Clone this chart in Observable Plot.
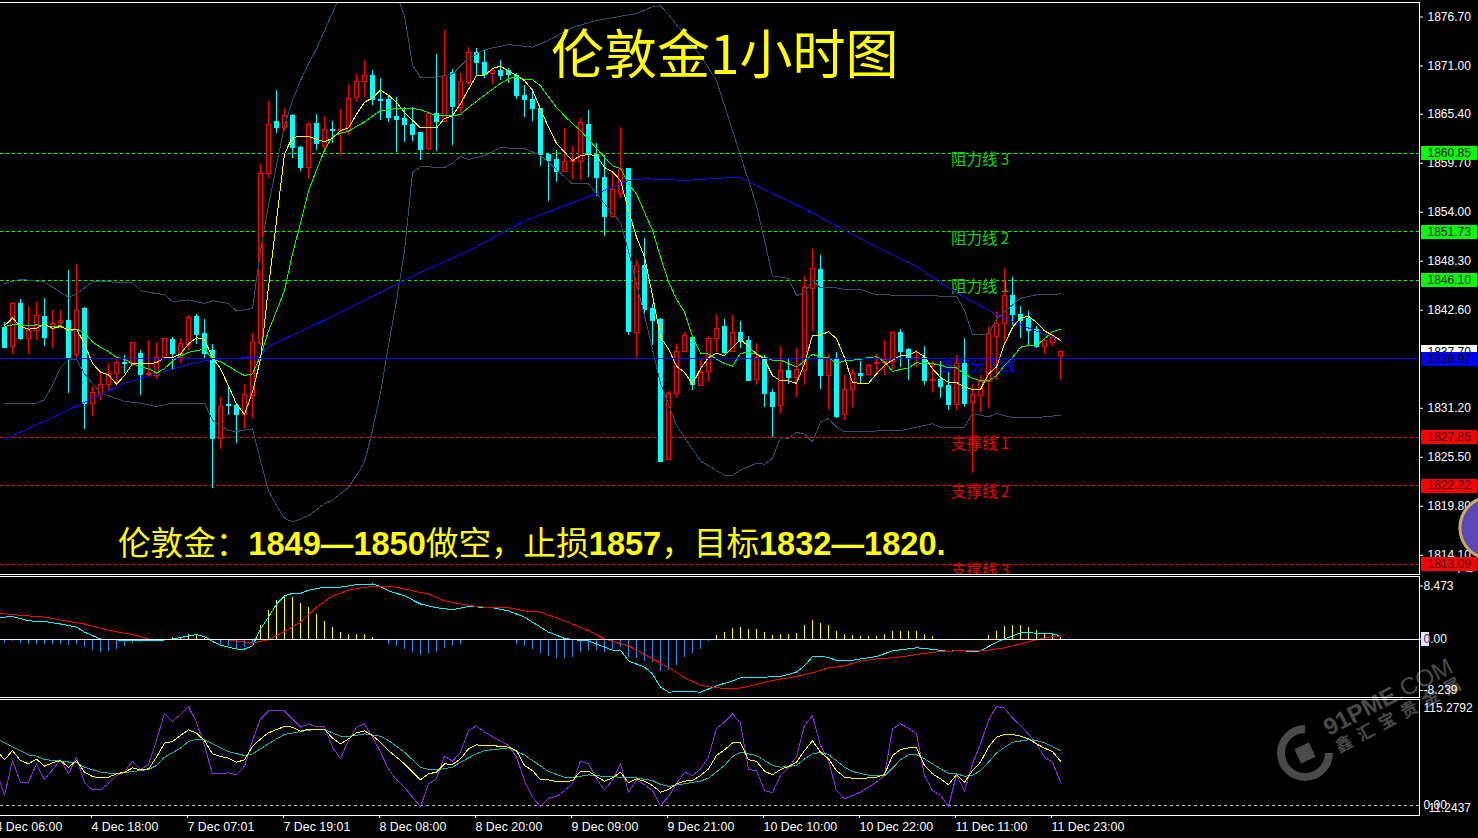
<!DOCTYPE html>
<html><head><meta charset="utf-8">
<script src="https://cdn.jsdelivr.net/npm/d3@7"></script>
<script src="https://cdn.jsdelivr.net/npm/@observablehq/plot@0.6"></script>
<style>
html,body{margin:0;padding:0;background:#000;overflow:hidden}
#page{position:relative;width:1478px;height:838px;background:#000;overflow:hidden}
#page>svg,#page>figure{position:absolute;left:0;margin:0;background:transparent}
.ov{position:absolute;white-space:nowrap}
</style></head><body><div id="page"></div>
<script>
const opens=[1840.5,1838.3,1843.3,1839.2,1840.2,1841.8,1840.4,1841.1,1841.3,1837.4,
1842.7,1831.7,1832.8,1833.9,1835.2,1836.5,1836.3,1837.5,1835.1,1835.0,
1837.1,1839.1,1837.1,1838.6,1841.8,1839.8,1837.9,1827.6,1831.6,1831.5,
1830.4,1832.6,1838.7,1858.5,1864.5,1863.8,1865.2,1861.5,1859.2,1864.3,
1861.6,1863.6,1863.4,1863.5,1867.3,1869.2,1869.9,1867.1,1867.0,1865.1,
1864.8,1864.2,1863.2,1861.3,1865.4,1864.5,1870.2,1866.1,1869.0,1872.5,
1871.4,1870.1,1870.4,1870.4,1869.9,1867.5,1867.1,1866.0,1860.7,1860.1,
1858.7,1859.8,1859.8,1864.2,1860.6,1858.0,1853.5,1856.1,1859.0,1840.0,
1847.7,1842.7,1841.5,1825.2,1832.9,1837.7,1839.4,1833.8,1835.4,1839.2,
1840.7,1837.8,1839.9,1839.0,1834.5,1837.1,1833.0,1831.5,1835.5,1834.7,
1835.5,1845.1,1847.3,1835.0,1836.9,1830.4,1833.3,1835.2,1835.1,1836.3,
1836.5,1836.6,1839.9,1838.0,1837.0,1837.1,1834.4,1834.5,1833.8,1831.6,
1836.4,1831.8,1832.6,1834.2,1839.5,1841.0,1844.3,1842.1,1841.6,1840.3,
1838.3,1838.8,1837.3];
const closes=[1838.2,1843.3,1839.3,1840.2,1841.9,1839.4,1841.0,1841.3,1837.1,1842.5,
1831.7,1833.0,1833.9,1835.2,1836.5,1836.4,1838.8,1835.1,1835.2,1837.1,
1839.2,1837.5,1838.7,1841.7,1839.7,1837.5,1827.6,1831.4,1831.5,1830.4,
1832.8,1838.8,1858.4,1864.2,1863.8,1865.2,1861.5,1859.1,1864.2,1861.9,
1863.6,1863.4,1863.6,1867.2,1869.2,1869.9,1867.1,1866.9,1864.9,1864.7,
1864.1,1863.0,1861.2,1865.4,1864.5,1869.9,1866.2,1869.1,1872.5,1871.4,
1870.0,1870.4,1869.9,1870.0,1867.5,1867.0,1866.0,1860.7,1860.0,1858.7,
1859.8,1859.9,1864.4,1860.7,1858.0,1853.4,1856.6,1858.9,1840.05,1847.8,
1842.6,1841.4,1824.9,1832.9,1837.7,1839.6,1833.9,1835.3,1839.2,1840.4,
1837.6,1839.9,1838.9,1834.4,1837.1,1832.9,1831.4,1835.5,1834.7,1835.7,
1845.2,1847.4,1835.0,1836.9,1830.2,1833.3,1835.2,1835.0,1836.1,1836.5,
1836.8,1839.9,1837.8,1836.9,1837.1,1834.4,1834.5,1833.7,1831.6,1836.4,
1831.7,1832.8,1834.3,1839.8,1841.0,1844.3,1842.0,1841.4,1840.2,1838.3,
1839.0,1839.4,1837.7];
const highs=[1841.2,1843.5,1843.9,1843.0,1843.5,1844.0,1842.6,1842.6,1847.2,1847.9,
1842.9,1833.7,1835.5,1836.4,1836.9,1837.3,1838.8,1837.9,1839.1,1838.8,
1839.2,1839.4,1839.3,1842.0,1842.1,1841.5,1838.6,1832.4,1833.7,1831.5,
1834.0,1839.9,1859.5,1866.9,1868.2,1866.1,1865.4,1861.6,1864.4,1865.4,
1865.1,1864.5,1866.0,1868.9,1870.0,1871.6,1870.5,1869.6,1867.6,1867.4,
1866.2,1866.2,1863.3,1865.6,1872.3,1875.1,1870.6,1870.1,1873.1,1873.0,
1872.8,1870.7,1871.6,1870.7,1870.1,1868.7,1868.0,1866.0,1860.8,1861.2,
1863.7,1861.6,1864.9,1865.8,1862.0,1860.6,1858.5,1863.8,1859.0,1848.4,
1851.0,1843.3,1841.6,1833.1,1838.7,1840.0,1839.5,1836.9,1839.5,1842.1,
1841.5,1842.0,1841.3,1839.5,1838.7,1837.3,1833.4,1838.4,1836.9,1838.2,
1846.5,1849.7,1849.0,1837.5,1837.7,1835.0,1835.7,1836.6,1836.3,1837.5,
1839.1,1840.1,1840.4,1838.1,1837.9,1838.4,1836.6,1836.6,1835.4,1837.3,
1839.3,1834.0,1835.0,1840.7,1842.4,1847.4,1846.4,1843.0,1842.4,1840.7,
1839.3,1839.8,1837.7];
const lows=[1838.1,1837.5,1839.1,1837.5,1839.1,1838.4,1838.2,1840.4,1832.9,1836.9,
1828.7,1830.3,1832.1,1833.3,1834.0,1835.2,1836.1,1832.7,1834.8,1834.5,
1836.9,1835.7,1836.4,1837.9,1838.6,1836.9,1821.9,1826.4,1830.4,1827.1,
1828.7,1830.0,1838.5,1857.9,1863.2,1863.4,1860.3,1858.7,1857.8,1861.2,
1861.1,1862.0,1860.6,1862.9,1866.8,1867.4,1866.4,1864.7,1864.4,1861.0,
1862.1,1862.2,1860.0,1861.2,1861.1,1864.5,1861.8,1865.5,1868.7,1869.8,
1869.6,1868.9,1869.3,1869.0,1867.1,1865.0,1864.5,1859.3,1855.3,1857.5,
1858.6,1857.8,1857.7,1858.0,1855.8,1851.2,1853.4,1855.6,1839.7,1836.9,
1842.2,1838.5,1824.9,1825.1,1832.3,1837.7,1833.3,1833.8,1834.2,1837.7,
1837.5,1837.7,1838.1,1834.3,1833.8,1831.3,1827.8,1830.5,1834.0,1832.4,
1833.8,1840.1,1833.4,1830.9,1830.0,1829.8,1831.3,1834.0,1835.0,1835.0,
1835.0,1835.6,1836.0,1834.4,1835.9,1833.9,1833.0,1832.3,1830.9,1831.0,
1831.3,1823.6,1830.6,1831.3,1834.4,1838.7,1840.8,1839.3,1838.5,1838.1,
1837.4,1838.4,1834.4];
const fastMA=[1840.8,1841.7,1840.7,1840.4,1840.5,1841.0,1840.5,1840.7,1840.3,1840.4,
1838.7,1836.4,1835.4,1835.1,1834.0,1835.0,1836.4,1836.4,1836.4,1836.5,
1837.1,1837.1,1837.5,1838.7,1839.4,1839.2,1837.1,1835.8,1833.8,1831.7,
1830.5,1833.1,1836.9,1845.3,1853.0,1860.8,1862.7,1862.8,1862.8,1862.5,
1862.2,1862.6,1863.5,1863.8,1865.4,1866.8,1867.3,1868.2,1867.6,1866.8,
1865.6,1864.7,1863.8,1863.8,1863.8,1864.9,1865.2,1866.6,1868.3,1869.9,
1869.9,1870.7,1871.0,1870.4,1869.9,1869.3,1868.2,1866.0,1863.9,1862.0,
1861.0,1860.0,1860.6,1860.7,1860.6,1859.2,1858.7,1857.7,1854.2,1851.1,
1848.8,1844.3,1839.5,1838.1,1836.1,1835.4,1834.0,1835.8,1837.1,1837.6,
1837.3,1838.3,1839.2,1838.4,1837.5,1836.9,1835.0,1834.4,1834.4,1834.1,
1836.4,1839.7,1839.7,1840.1,1839.3,1837.1,1834.2,1834.1,1834.1,1835.2,
1836.2,1836.8,1837.3,1837.4,1837.8,1837.2,1835.8,1834.8,1834.2,1834.2,
1833.7,1833.4,1833.4,1835.2,1836.0,1838.7,1840.6,1841.7,1841.9,1841.2,
1840.2,1839.7,1839.1];
const slowMA=[1840.7,1840.9,1840.9,1840.8,1840.9,1840.8,1840.7,1840.8,1840.2,1840.4,
1840.0,1838.9,1838.3,1837.8,1837.1,1836.9,1836.4,1836.0,1835.8,1835.3,
1835.8,1836.7,1837.3,1837.7,1837.9,1838.1,1836.9,1836.6,1836.1,1835.5,
1835.0,1835.2,1837.3,1840.2,1842.5,1844.9,1849.2,1852.7,1856.5,1858.9,
1861.2,1862.8,1863.2,1863.4,1864.0,1864.5,1865.2,1865.8,1865.9,1866.1,
1866.1,1866.1,1865.9,1865.6,1865.2,1865.2,1865.2,1865.4,1866.2,1866.9,
1867.6,1868.3,1869.0,1869.5,1869.8,1869.4,1869.4,1868.7,1867.4,1866.2,
1865.2,1864.3,1863.5,1862.5,1861.4,1860.4,1859.4,1859.1,1857.3,1856.1,
1854.0,1851.9,1848.8,1845.9,1843.9,1842.4,1839.5,1837.6,1837.5,1836.9,
1836.4,1836.1,1837.6,1837.7,1837.5,1837.1,1836.8,1836.8,1836.4,1836.0,
1836.7,1837.5,1837.1,1837.1,1836.4,1836.7,1836.8,1836.9,1837.1,1837.2,
1836.6,1835.5,1835.7,1835.9,1836.5,1836.4,1836.4,1836.2,1835.9,1835.9,
1835.2,1834.7,1834.4,1834.4,1835.0,1836.2,1837.1,1838.3,1838.5,1838.5,
1839.3,1840.1,1840.4];
const longMAIdx=[0,5,10,15,19,23,26,29,32,33,39,46,52,58,65,71,76,78,80,85,90,92,95,100,105,110,114,117,120,124,127,132];
const longMA=[1827.6,1829.7,1831.9,1834.1,1835.2,1836.3,1836.9,1837.0,1837.3,1838.4,1841.0,1844.2,1847.0,1849.5,1853.0,1855.1,1856.9,1857.7,1857.9,1857.7,1858.0,1858.0,1856.6,1854.4,1851.9,1849.5,1847.7,1845.8,1844.1,1842.1,1840.9,1839.1];
const upperIdx=[0,2,5,7,8,9,11,13,16,17,18,20,21,23,25,26,28,29,31,32,33,34,35,36,37,38,39,40,41,42,44,47,49,50,51,52,54,56,58,60,63,66,68,71,74,79,81,82,83,87,89,91,94,95,96,98,99,100,101,102,104,105,107,109,115,119,120,121,123,124,125,127,129,132];
const upperBand=[1845.7,1846.2,1845.9,1844.7,1844.1,1844.5,1845.9,1845.9,1845.8,1844.9,1844.7,1844.4,1843.6,1843.8,1843.4,1843.7,1843.4,1842.5,1842.8,1849.5,1854.8,1859.4,1864.1,1867.0,1869.3,1871.3,1873.0,1875.1,1877.2,1879.2,1880.9,1880.9,1879.2,1876.9,1871.1,1869.7,1869.7,1870.1,1871.9,1872.9,1873.5,1873.2,1874.0,1875.5,1876.3,1877.1,1877.9,1878.0,1877.0,1872.2,1869.3,1863.5,1854.8,1850.7,1846.6,1846.3,1844.3,1844.6,1846.1,1845.2,1845.2,1845.0,1845.0,1844.4,1844.3,1844.2,1842.6,1839.8,1839.8,1841.6,1842.4,1844.0,1844.4,1844.5];
const lowerIdx=[0,4,5,6,7,8,9,10,12,15,17,19,21,25,26,28,29,31,32,33,34,35,36,37,38,40,41,43,44,45,46,47,48,49,50,51,52,55,56,57,58,60,62,65,67,68,71,73,75,77,78,79,80,82,84,85,87,90,91,92,94,95,96,97,98,99,100,101,102,103,104,105,112,116,117,119,120,121,123,124,126,129,132];
const lowerBand=[1831.8,1831.8,1832.2,1833.9,1835.9,1836.9,1836.9,1835.2,1833.0,1832.0,1831.8,1831.4,1831.8,1831.8,1829.8,1828.6,1828.5,1828.8,1825.1,1821.6,1819.9,1818.4,1818.0,1818.3,1818.7,1820.1,1820.5,1822.0,1823.4,1824.9,1828.6,1833.0,1838.5,1843.7,1849.5,1858.6,1859.3,1859.2,1859.7,1860.5,1860.1,1860.6,1861.5,1861.4,1860.6,1859.8,1857.3,1857.3,1855.0,1852.8,1849.5,1845.7,1842.0,1834.1,1829.2,1827.8,1825.1,1823.4,1823.4,1824.0,1824.8,1824.7,1825.4,1827.8,1827.7,1828.4,1828.2,1827.3,1829.6,1830.0,1829.0,1828.5,1828.6,1829.4,1829.0,1829.0,1829.0,1830.6,1830.2,1830.6,1830.1,1830.1,1830.4];
const macdHist=[-0.7,-0.43,-0.75,-0.9,-0.9,-0.9,-0.8,-0.8,-1.1,-0.8,
-1.4,-1.9,-2.1,-2.0,-1.7,-1.2,-0.7,-0.5,-0.4,0,
0,0.2,0.3,0.7,0.7,0.15,-0.1,-0.9,-1.2,-1.6,
-1.4,-0.8,2.1,4.5,6.1,6.9,6.7,5.7,5.1,3.9,
2.8,1.8,1.0,0.75,0.75,0.75,0.2,0,-0.8,-1.2,
-1.65,-2.1,-2.7,-2.3,-2.1,-1.5,-1.2,-0.9,-0.1,0,
0,0,0,-0.15,-0.9,-1.2,-1.7,-2.3,-2.8,-3.1,
-3.1,-2.9,-2.1,-1.9,-1.9,-2.1,-1.6,-1.4,-2.9,-3.1,
-3.6,-3.7,-5.2,-5.1,-4.3,-3.0,-2.3,-1.7,-0.4,0.5,
1.0,1.65,1.8,1.5,1.5,1.0,0.5,0.7,0.7,0.85,
2.1,3.0,2.5,2.1,1.2,0.7,0.5,0.4,0.4,0.4,
0.7,1.2,1.2,1.2,1.2,0.7,0.4,0,0,0,
-0.15,-0.15,0,0.5,1.2,2.0,2.1,2.1,1.8,1.3,
0.85,0.5,0.2];
const macdIdx=[-1,0,1,3,5,7,9,10,12,14,17,19,21,23,24,25,26,27,29,30,31,32,33,34,35,36,37,38,40,42,44,46,47,48,50,52,54,56,58,61,63,65,68,70,71,73,75,76,77,78,80,81,82,83,85,87,89,91,92,95,97,99,100,101,103,104,106,109,111,114,116,118,119,121,122,124,125,127,128,131,132];
const macdLine=[3.5,3.5,3.6,2.9,2.8,2.4,1.9,1.1,0,-0.15,-0.3,-0.3,0,0.5,0.7,0.4,-0.4,-1.0,-1.6,-1.6,-1.1,1.6,3.5,5.6,6.9,7.3,7.3,7.8,8.3,8.3,8.7,8.8,8.4,7.7,6.9,5.6,5.0,4.7,5.2,5.0,4.5,3.5,1.1,0.1,-0.1,-0.3,-1.3,-1.8,-1.8,-3.5,-4.5,-5.6,-7.7,-8.5,-8.4,-8.5,-7.5,-6.7,-6.2,-6.1,-6.0,-5.3,-4.3,-2.8,-2.9,-3.5,-3.4,-2.8,-1.9,-1.4,-1.65,-2.0,-1.8,-2.0,-1.9,-0.5,0,1.0,1.0,0.8,0.5];
const signalIdx=[-1,2,5,8,10,13,16,18,21,23,28,29,31,33,35,37,39,41,43,45,47,49,51,53,55,57,59,61,63,65,67,70,73,75,78,81,83,85,87,89,91,93,95,97,99,101,103,105,107,109,111,113,115,117,119,121,123,125,127,129,131,132];
const signalLine=[4.1,3.8,3.5,2.8,2.4,1.4,0.7,0,-0.1,-0.1,-0.15,-0.3,-0.65,-0.1,1.2,2.7,5.1,6.9,7.8,8.3,8.4,8.3,7.7,7.2,6.1,5.6,5.2,5.0,5.0,4.5,4.3,2.9,1.3,0,-1.1,-3.2,-4.5,-6.2,-7.4,-7.8,-8.0,-7.6,-6.9,-6.4,-6.0,-5.4,-4.6,-4.3,-3.5,-3.2,-3.0,-2.7,-2.3,-2.0,-1.9,-1.9,-1.8,-1.4,-0.8,-0.1,0.4,0.5];
const stochIdx=d3.range(-1,133);
const stochK=[36.0,10.5,48.7,25.1,25.1,45.1,28.0,38.5,49.5,34.2,52.4,
24.4,16.7,16.7,23.3,32.4,36.0,48.0,38.9,44.4,70.5,
100.3,91.6,98.9,107.6,90.5,65.1,34.2,34.2,35.3,33.1,
42.6,70.5,94.2,102.9,102.9,102.9,94.2,85.1,88.7,85.5,
85.5,63.3,50.5,70.5,85.1,88.7,74.2,57.8,39.6,27.6,
19.6,8.7,-1.5,23.3,28.7,53.5,48.0,57.8,81.5,86.6,
79.6,74.9,69.8,65.1,52.4,26.9,8.7,-1.5,7.6,9.5,
16.0,23.3,48.0,45.1,28.7,16.7,26.9,45.1,14.2,27.6,
22.2,16.0,-0.4,9.5,23.3,36.0,32.4,39.6,52.4,84.0,
90.5,99.6,89.4,38.9,37.8,16.0,13.5,32.4,41.5,52.4,
86.9,97.4,65.1,48.7,16.0,6.9,10.6,14.2,19.6,25.1,
32.4,83.3,88.7,84.0,77.8,32.4,16.0,10.6,-1.5,33.5,
15.3,45.1,66.9,92.4,107.6,105.8,94.9,86.9,77.8,66.9,
52.4,46.9,25.1];
const stochD=[60.4,49.5,59.6,48.7,45.1,50.2,42.6,46.2,48.7,41.4,48.7,
36.0,31.3,29.8,30.6,34.2,36.0,40.7,38.5,39.6,52.4,
67.6,69.5,76.0,82.2,78.5,70.5,56.0,53.1,51.3,46.9,
49.5,64.0,72.3,78.9,82.5,85.8,85.1,80.7,82.9,82.9,
82.9,73.1,66.9,72.3,78.9,81.1,76.0,68.7,59.6,52.4,
45.1,36.0,27.6,34.2,36.0,45.1,44.4,50.5,61.5,65.8,
65.1,64.7,64.4,63.3,59.6,43.3,37.8,27.6,27.6,25.8,
25.4,26.9,37.1,37.1,31.3,26.2,29.8,36.0,24.4,28.7,
26.2,21.5,14.2,17.1,23.3,26.2,26.9,32.4,39.6,54.2,
60.4,68.0,68.0,49.5,48.0,37.1,33.1,39.0,42.2,46.9,
59.6,70.2,57.8,50.5,37.8,30.6,29.5,28.7,29.8,30.6,
33.5,54.2,60.7,62.5,62.5,43.3,34.2,28.7,22.2,33.5,
25.1,37.8,46.9,63.3,74.2,77.1,77.1,75.3,72.3,66.9,
62.2,58.5,48.0];
const stochSlowIdx=[-1,0,2,3,4,5,7,9,10,12,14,16,18,19,20,22,23,24,25,26,28,30,31,32,34,35,37,39,40,41,42,43,45,47,48,50,52,53,54,56,57,59,60,62,63,65,66,68,70,71,73,75,77,79,81,82,83,85,87,88,90,91,92,94,95,96,97,99,100,101,102,103,105,106,108,110,111,112,113,114,115,116,117,118,119,120,121,122,123,124,126,128,129,130,132];
const stochSlow=[73.1,68.0,59.6,54.9,53.5,49.8,48.0,46.2,41.4,36.0,34.2,36.7,38.9,43.3,52.4,62.2,69.5,72.0,71.3,66.9,58.5,54.2,56.0,61.5,72.3,77.1,80.3,82.9,82.5,78.9,75.3,74.9,77.8,75.3,70.5,57.8,41.4,38.9,38.5,41.4,46.9,56.0,59.6,61.5,62.6,54.9,48.7,36.7,30.6,29.8,33.1,31.3,30.6,29.8,26.9,22.6,20.4,23.3,26.2,29.5,43.3,53.1,57.8,54.2,48.7,43.3,41.5,43.3,50.5,56.0,57.8,55.3,41.5,36.7,32.7,32.0,40.4,49.8,54.9,55.3,50.5,45.1,39.6,34.9,34.2,31.6,32.4,37.8,46.9,57.1,68.7,71.3,70.5,68.0,59.6];

const priceTicks=[1876.70,1871.00,1865.40,1859.70,1854.00,1848.30,1842.60,1831.20,1825.50,1819.80,1814.10];
const resistance=[1860.85,1851.73,1846.10];
const support=[1827.85,1822.22,1813.09];
const pivot=1836.97;
const bidPrice=1837.70;
const resistanceNames=["阻力线 3","阻力线 2","阻力线 1"];
const supportNames=["支撑线 1","支撑线 2","支撑线 3"];
const pivotName="多空分界线";
const macdTicks=[8.473,0,-8.239];
const dateIdx=[-1,11,23,35,47,59,71,83,95,107,119,131];
const dateLabels=["4 Dec 06:00","4 Dec 18:00","7 Dec 07:01","7 Dec 19:01","8 Dec 08:00","8 Dec 20:00","9 Dec 09:00","9 Dec 21:00","10 Dec 10:00","10 Dec 22:00","11 Dec 11:00","11 Dec 23:00"];

const idx=d3.range(opens.length);
const candles=idx.map(i=>({i,o:opens[i],h:highs[i],l:lows[i],c:closes[i]}));
const ups=candles.filter(d=>d.c>=d.o), downs=candles.filter(d=>d.c<d.o);
const X={type:"linear",domain:[-0.5,176.875],range:[0,1419]};
const FONT='"Liberation Sans","Noto Sans CJK SC",sans-serif';
const base={width:1478,marginLeft:0,marginRight:59,x:X,style:{background:"transparent",color:"white",fontFamily:FONT,fontSize:"12px"}};
const CRISP={shapeRendering:"crispEdges"};
const line=(xs,ys,stroke,o={})=>Plot.line(ys,{x:xs,y:ys,stroke,strokeWidth:1,clip:true,...CRISP,...o});
const borders=()=>[Plot.frame({anchor:"top",stroke:"white",...CRISP}),Plot.frame({anchor:"bottom",stroke:"white",...CRISP}),Plot.frame({anchor:"right",stroke:"white",...CRISP})];
const tag=(vals,color)=>Plot.ruleY(vals,{y:d=>d,x1:()=>177.1,x2:()=>184.1,stroke:color,strokeWidth:14,...CRISP});
const tagText=(vals,fill)=>Plot.text(vals,{y:d=>d,text:d=>d.toFixed(2),frameAnchor:"right",dx:8,textAnchor:"start",fill,fontSize:12});
const levelText=(vals,names,fill)=>Plot.text(vals,{y:d=>d,x:()=>118.3,text:(d,k)=>names[k],dy:7,textAnchor:"start",fill,fontSize:15.5,clip:true,fontFamily:'"Noto Sans CJK SC",sans-serif'});

const main=Plot.plot({...base,height:575,marginTop:2,marginBottom:1,
 y:{domain:[1811.87,1878.39],range:[574,2],label:null},
 marks:[
  Plot.ruleY(resistance,{y:d=>d,stroke:"#00ff00",strokeDasharray:"3,3",...CRISP}),
  Plot.ruleY(support,{y:d=>d,stroke:"#ff0000",strokeDasharray:"3,3",...CRISP}),
  levelText(resistance,resistanceNames,"#12d312"),
  levelText(support,supportNames,"#ee0000"),
  Plot.text([pivot],{y:d=>d,x:()=>117,text:()=>pivotName,dy:8,textAnchor:"start",fill:"#0000ee",fontSize:15,fontFamily:'"Noto Sans CJK SC",sans-serif'}),
  Plot.ruleX(ups,{x:"i",y1:"l",y2:"h",stroke:"#ff0000",clip:true,...CRISP}),
  Plot.ruleX(downs,{x:"i",y1:"l",y2:"h",stroke:"#00ffff",clip:true,...CRISP}),
  Plot.rect(ups,{x1:d=>d.i-0.25,x2:d=>d.i+0.25,y1:"o",y2:"c",fill:"black",stroke:"#ff0000",clip:true,...CRISP}),
  Plot.rect(downs,{x1:d=>d.i-0.25,x2:d=>d.i+0.25,y1:"o",y2:"c",fill:"#00ffff",stroke:"#00ffff",clip:true,...CRISP}),
  line(upperIdx,upperBand,"#30506e"),
  line(lowerIdx,lowerBand,"#30506e"),
  line(longMAIdx,longMA,"#0a0aff"),
  line(idx,slowMA,"#00ff00"),
  line(idx,fastMA,"#ffff00"),
  Plot.ruleY([pivot],{y:d=>d,stroke:"#0000ff",strokeWidth:1.5,x1:()=>-1,x2:()=>176.875,...CRISP}),
  ...borders(),
  Plot.axisY({anchor:"right",ticks:priceTicks,tickFormat:d3.format(".2f"),tickSize:3,tickPadding:5,color:"white",label:null}),
  Plot.dot([1817.3],{y:d=>d,x:()=>185.8,r:31,fill:"#5b48b5",stroke:"#c9ac6a",strokeWidth:3}),
  tag([bidPrice],"#ffffff"),tagText([bidPrice],"black"),
  tag([pivot],"#0000ff"),tagText([pivot],"black"),
  tag(resistance,"#00ff00"),tagText(resistance,"black"),
  tag(support,"#ff0000"),tagText(support,"#300000")
 ]});
main.style.top="0px";

const macd=Plot.plot({...base,height:123,marginTop:1,marginBottom:1,
 y:{domain:[-9.36,10],range:[122,1],label:null},
 marks:[
  Plot.ruleX(macdHist,{x:idx,y1:()=>0,y2:d=>d,stroke:"#ffff00",filter:d=>d>0,clip:true,...CRISP}),
  Plot.ruleX(macdHist,{x:idx,y1:()=>0,y2:d=>d,stroke:"#1e90ff",filter:d=>d<0,clip:true,...CRISP}),
  line(macdIdx,macdLine,"#00ffff"),
  line(signalIdx,signalLine,"#ff0000"),
  Plot.ruleY([0],{stroke:"#f0f0ff",...CRISP}),
  ...borders(),
  Plot.axisY({anchor:"right",ticks:macdTicks,tickFormat:d=>d===0?"0.00":String(d),tickSize:3,tickPadding:1,color:"white",label:null}),
  Plot.ruleY([0],{x1:()=>177.1,x2:()=>178.1,stroke:"#e6e6ff",strokeWidth:14,...CRISP}),
  Plot.text([0],{y:d=>d,text:()=>"0",frameAnchor:"right",dx:4,textAnchor:"start",fill:"#503090",fontSize:12})
 ]});
macd.style.top="575px";

const stoch=Plot.plot({...base,height:140,marginTop:1,marginBottom:23,
 y:{domain:[-11.2437,115.2792],range:[117,1],label:null},
 marks:[
  Plot.ruleY([0],{stroke:"#c8c8c8",strokeDasharray:"3,3",...CRISP}),
  line(stochIdx,stochK,"#8a2be2"),
  line(stochSlowIdx,stochSlow,"#20b2aa"),
  line(stochIdx,stochD,"#ffff00"),
  ...borders(),
  Plot.text([115.2792],{y:d=>d,text:()=>"115.2792",frameAnchor:"right",dx:4,dy:9,textAnchor:"start",fill:"white"}),
  Plot.text([0],{y:d=>d,text:()=>"0.00",frameAnchor:"right",dx:4,textAnchor:"start",fill:"white"}),
  Plot.text([-11.2437],{y:d=>d,text:()=>"-11.2437",frameAnchor:"right",dx:5,dy:-7,textAnchor:"start",fill:"white"}),
  Plot.axisX({anchor:"bottom",ticks:dateIdx,tickFormat:d=>dateLabels[dateIdx.indexOf(d)],textAnchor:"start",tickSize:3,tickPadding:4,dx:-1,color:"white",label:null,fontSize:12.4})
 ]});
stoch.style.top="698px";

const page=document.getElementById("page");
function ov(html,css){const d=document.createElement("div");d.className="ov";d.style.cssText=css;d.innerHTML=html;page.append(d);return d;}
// watermark sits beneath the transparent charts
const wm="#4a4a4a";
ov("",`left:1277px;top:725px;width:40px;height:40px;border:8px solid ${wm};border-radius:50%;border-right-color:transparent;transform:rotate(-45deg);`);
ov("",`left:1297px;top:745px;width:16px;height:16px;background:${wm};transform:rotate(-25deg);`);
ov(`<b>91PME</b>.COM`,`left:1325px;top:714px;font:400 24px/30px "Liberation Sans",sans-serif;color:${wm};transform-origin:left center;transform:rotate(-27deg);`);
ov(`鑫汇宝贵金属`,`left:1336px;top:735px;font:700 17px/24px "Noto Sans CJK SC",sans-serif;letter-spacing:7.5px;color:${wm};transform-origin:left center;transform:rotate(-28deg);`);
page.append(main,macd,stoch);
ov("伦敦金1小时图",`left:551px;top:21px;font:400 53px/60px "Noto Sans CJK SC","Liberation Sans",sans-serif;color:#ffff00;`);
const b=s=>`<b style="font-family:'Liberation Sans'">${s}</b>`;
ov(`伦敦金：${b("1849—1850")}做空，止损${b("1857")}，目标${b("1832—1820.")}`,
 `left:118px;top:524px;font:400 32.6px/40px "Liberation Sans","Noto Sans CJK SC",sans-serif;color:#ffff00;`);
</script></body></html>
